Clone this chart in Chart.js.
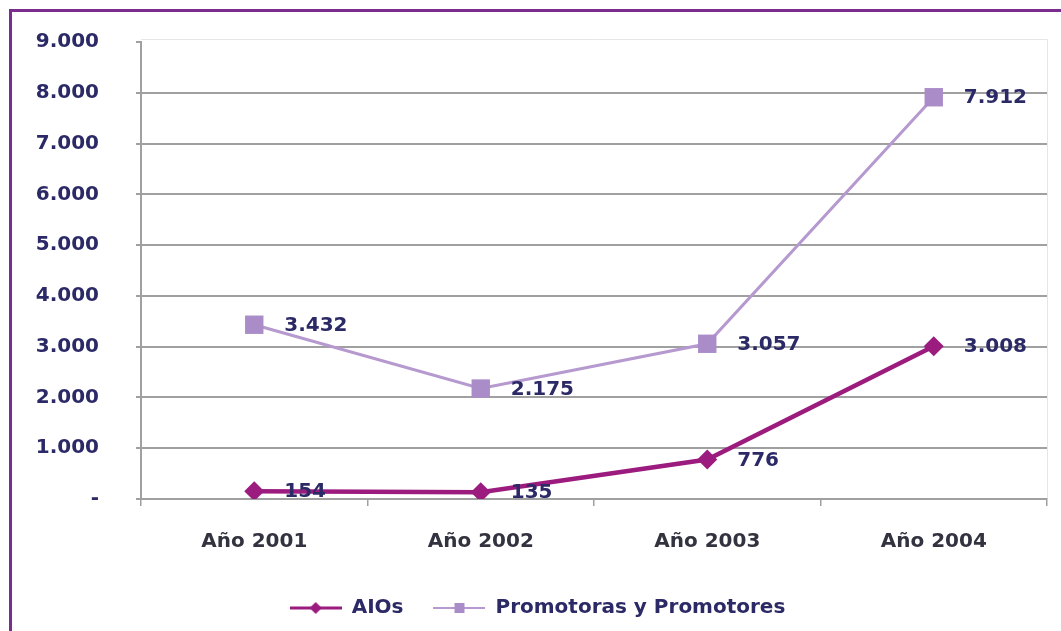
<!DOCTYPE html>
<html>
<head>
<meta charset="utf-8">
<script src="https://cdn.jsdelivr.net/npm/chart.js@4"></script>
<style>
    html, body { margin: 0; padding: 0; background: #ffffff; }
    #wrap { position: relative; width: 1061px; height: 631px; overflow: hidden; }
    #frame { position: absolute; left: 9px; top: 9px; width: 1100px; height: 700px;
             border-left: 3px solid #7b2d8e; border-top: 3px solid #7b2d8e; pointer-events: none; }
    canvas { position: absolute; left: 0; top: 0; }
</style>
</head>
<body>
<div id="wrap">
    <canvas id="chart" width="1061" height="631"></canvas>
    <div id="frame"></div>
</div>
<script>
// --- Data ---
const years = ['Año 2001', 'Año 2002', 'Año 2003', 'Año 2004'];
const aiosValues = [154, 135, 776, 3008];
const promotoresValues = [3432, 2175, 3057, 7912];
const seriesNames = ['AIOs', 'Promotoras y Promotores'];
const yTicks = [0, 1000, 2000, 3000, 4000, 5000, 6000, 7000, 8000, 9000];

// --- Colours / fonts ---
const aiosColor = '#9c1b7f';
const promoLine = '#b599cf';
const promoMark = '#a98cc8';
const navy = '#2c2a66';
const gridGray = '#a0a0a0';
const fontFamily = '"DejaVu Sans", "Liberation Sans", sans-serif';

function fmt(n) {
    return String(n).replace(/\B(?=(\d{3})+(?!\d))/g, '.');
}

// small canvases used as legend symbols (line with marker in the middle)
function legendSymbol(color, markColor, shape) {
    const c = document.createElement('canvas');
    c.width = 52; c.height = 14;
    const g = c.getContext('2d');
    g.strokeStyle = color;
    g.lineWidth = shape === 'diamond' ? 3 : 2;
    g.beginPath(); g.moveTo(0, 7); g.lineTo(52, 7); g.stroke();
    g.fillStyle = markColor;
    if (shape === 'diamond') {
        g.beginPath(); g.moveTo(26, 1); g.lineTo(32, 7); g.lineTo(26, 13); g.lineTo(20, 7); g.closePath(); g.fill();
    } else {
        g.fillRect(21, 2, 10, 10);
    }
    return c;
}
const legendSymbols = [legendSymbol(aiosColor, aiosColor, 'diamond'), legendSymbol(promoLine, promoMark, 'square')];

// data labels to the right of each point
const valueLabels = {
    id: 'valueLabels',
    afterDatasetsDraw(chart) {
        const ctx = chart.ctx;
        ctx.save();
        ctx.font = 'bold 20px ' + fontFamily;
        ctx.fillStyle = navy;
        ctx.textAlign = 'left';
        ctx.textBaseline = 'middle';
        chart.data.datasets.forEach((ds, i) => {
            chart.getDatasetMeta(i).data.forEach((pt, j) => {
                ctx.fillText(fmt(ds.data[j]), pt.x + 30, pt.y + 1);
            });
        });
        ctx.restore();
    }
};

// faint border round the plot area
const plotBorder = {
    id: 'plotBorder',
    beforeDraw(chart) {
        const a = chart.chartArea;
        const ctx = chart.ctx;
        ctx.save();
        ctx.strokeStyle = '#e6e6e6';
        ctx.lineWidth = 1;
        ctx.beginPath();
        ctx.moveTo(a.left, a.top - 2.5);
        ctx.lineTo(a.right + 0.5, a.top - 2.5);
        ctx.lineTo(a.right + 0.5, a.bottom);
        ctx.stroke();
        ctx.restore();
    }
};

new Chart(document.getElementById('chart'), {
    type: 'line',
    data: {
        labels: years,
        datasets: [
            {
                label: seriesNames[0],
                data: aiosValues,
                borderColor: aiosColor,
                backgroundColor: aiosColor,
                borderWidth: 4.5,
                pointStyle: 'rectRot',
                pointRadius: 10,
                pointBorderWidth: 0,
                tension: 0
            },
            {
                label: seriesNames[1],
                data: promotoresValues,
                borderColor: promoLine,
                backgroundColor: promoMark,
                pointBorderColor: promoMark,
                borderWidth: 3,
                pointStyle: 'rect',
                pointRadius: 13,
                pointBorderWidth: 0,
                tension: 0
            }
        ]
    },
    options: {
        responsive: false,
        animation: false,
        layout: { padding: { left: 28, top: 42, right: 14, bottom: 3 } },
        plugins: {
            tooltip: { enabled: false },
            legend: {
                position: 'bottom',
                labels: {
                    usePointStyle: true,
                    pointStyleWidth: 52,
                    padding: 30,
                    color: navy,
                    font: { family: fontFamily, size: 20, weight: 'bold' },
                    generateLabels(chart) {
                        return chart.data.datasets.map((ds, i) => ({
                            text: ds.label,
                            pointStyle: legendSymbols[i],
                            fillStyle: ds.backgroundColor,
                            strokeStyle: ds.borderColor,
                            lineWidth: 0,
                            fontColor: navy,
                            hidden: false,
                            datasetIndex: i
                        }));
                    }
                }
            }
        },
        scales: {
            x: {
                offset: true,
                grid: { display: true, drawOnChartArea: false, offset: true, tickLength: 7, color: gridGray, lineWidth: 1.5 },
                border: { display: true, color: gridGray, width: 2 },
                ticks: { color: '#333340', padding: 24, font: { family: fontFamily, size: 20, weight: 'bold' } },
                afterFit(scale) { scale.height = 69; }
            },
            y: {
                min: 0,
                max: 9000,
                afterBuildTicks(scale) { scale.ticks = yTicks.map(v => ({ value: v })); },
                grid: {
                    tickLength: 5,
                    lineWidth: 2,
                    tickColor: gridGray,
                    color: ctx => (ctx.tick && ctx.tick.value === 9000 ? 'rgba(0,0,0,0)' : gridGray)
                },
                border: { display: true, color: gridGray, width: 2 },
                ticks: {
                    color: navy,
                    padding: 37,
                    font: { family: fontFamily, size: 20, weight: 'bold' },
                    callback: v => (v === 0 ? '-' : fmt(v))
                },
                afterFit(scale) {
                    scale.width = 113;
                    // tick padding would otherwise push the plot top down
                    scale.paddingTop = 0;
                    scale.paddingBottom = 0;
                }
            }
        }
    },
    plugins: [plotBorder, valueLabels]
});
</script>
</body>
</html>
